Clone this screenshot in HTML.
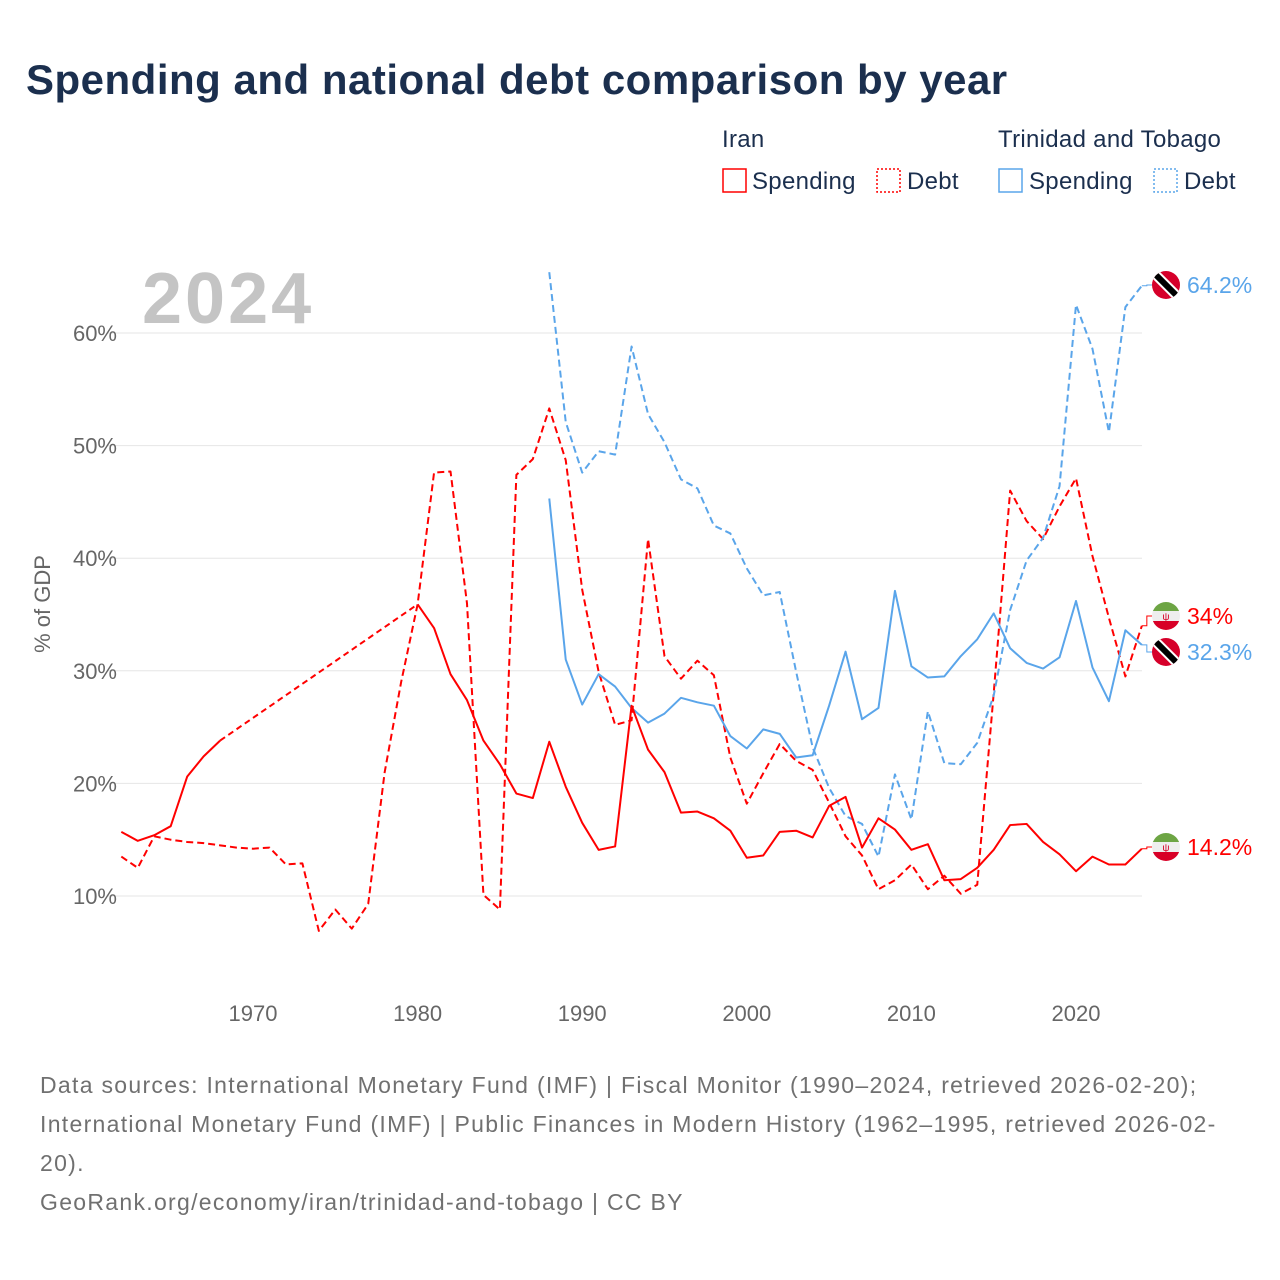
<!DOCTYPE html>
<html><head><meta charset="utf-8"><style>
body{margin:0;background:#fff;font-family:"Liberation Sans",sans-serif;}
#wrap{position:relative;width:1280px;height:1280px;overflow:hidden;}
</style></head><body>
<div id="wrap">
<svg id="chart" width="1280" height="1280" xmlns="http://www.w3.org/2000/svg">
<text x="26" y="94" font-size="42" font-weight="bold" fill="#1b2f4e" letter-spacing="0.5">Spending and national debt comparison by year</text>
<g font-size="24" fill="#1b2f4e" letter-spacing="0.3">
 <text x="722" y="147">Iran</text>
 <text x="998" y="147">Trinidad and Tobago</text>
 <g><rect x="723" y="169" width="23" height="23" fill="none" stroke="#f00" stroke-width="1.5"/><text x="752" y="189">Spending</text></g>
 <g><rect x="877" y="169" width="23" height="23" fill="none" stroke="#f00" stroke-width="1.5" stroke-dasharray="2,2"/><text x="907" y="189">Debt</text></g>
 <g><rect x="999" y="169" width="23" height="23" fill="none" stroke="#5aa5ea" stroke-width="1.5"/><text x="1029" y="189">Spending</text></g>
 <g><rect x="1154" y="169" width="23" height="23" fill="none" stroke="#5aa5ea" stroke-width="1.5" stroke-dasharray="2,2"/><text x="1184" y="189">Debt</text></g>
</g>
<text x="142" y="323" font-size="72" font-weight="bold" fill="#c4c4c4" letter-spacing="3">2024</text>
<g id="grid"></g><g id="series"></g><g id="ends"></g>
<text transform="translate(50,604) rotate(-90)" text-anchor="middle" font-size="22" fill="#666">% of GDP</text>
<g font-size="23" fill="#707070" letter-spacing="1.3">
 <text x="40" y="1093">Data sources: International Monetary Fund (IMF) | Fiscal Monitor (1990–2024, retrieved 2026-02-20);</text>
 <text x="40" y="1132">International Monetary Fund (IMF) | Public Finances in Modern History (1962–1995, retrieved 2026-02-</text>
 <text x="40" y="1171">20).</text>
 <text x="40" y="1210">GeoRank.org/economy/iran/trinidad-and-tobago | CC BY</text>
</g>
</svg>
</div>
<script>
const startYear = 1962;
const yTicks = [10,20,30,40,50,60];
const xTicks = [1970,1980,1990,2000,2010,2020];
const iranSpending = [15.7,14.9,15.4,16.2,20.6,22.4,23.8,null,null,null,null,null,null,null,null,null,null,null,35.9,33.8,29.7,27.4,23.8,21.7,19.1,18.7,23.7,19.7,16.5,14.1,14.4,26.9,23.0,21.0,17.4,17.5,16.9,15.8,13.4,13.6,15.7,15.8,15.2,18.0,18.8,14.3,16.9,15.9,14.1,14.6,11.4,11.5,12.5,14.1,16.3,16.4,14.8,13.7,12.2,13.5,12.8,12.8,14.2];
const iranDebt = [13.5,12.5,15.3,15.0,14.8,14.7,14.5,14.3,14.2,14.3,12.8,12.9,6.9,8.8,7.1,9.3,21.0,29.0,35.9,47.6,47.7,36.0,10.1,8.8,47.4,48.8,53.3,48.7,37.2,29.9,25.2,25.6,41.7,31.3,29.3,30.9,29.6,22.3,18.2,20.9,23.5,22.0,21.2,18.3,15.3,13.6,10.6,11.4,12.8,10.6,11.8,10.2,11.0,28.0,46.0,43.3,41.7,44.6,47.1,40.2,34.7,29.5,34.0];
const ttStart = 1988;
const ttSpending = [45.3,31.0,27.0,29.7,28.6,26.7,25.4,26.2,27.6,27.2,26.9,24.2,23.1,24.8,24.4,22.3,22.5,26.9,31.7,25.7,26.7,37.1,30.4,29.4,29.5,31.3,32.8,35.1,32.0,30.7,30.2,31.2,36.2,30.3,27.3,33.6,32.3];
const ttDebt = [65.4,52.1,47.6,49.5,49.2,58.8,52.8,50.3,47.0,46.2,42.9,42.2,39.1,36.7,37.0,29.9,23.2,19.6,17.1,16.4,13.5,20.8,16.8,26.4,21.8,21.7,23.6,27.8,35.4,39.8,41.8,46.4,62.5,58.6,51.2,62.3,64.2];
const endLabels = ["64.2%","34%","32.3%","14.2%"];

const NS="http://www.w3.org/2000/svg";
function X(yr){return 253+(yr-1970)*16.46;}
function Y(v){return 1008.6-v*11.26;}
function mk(t,a,p){const e=document.createElementNS(NS,t);for(const k in a)e.setAttribute(k,a[k]);p.appendChild(e);return e;}
const grid=document.getElementById('grid');
yTicks.forEach(v=>{
 const l=mk('line',{x1:108,x2:1142,y1:Y(v),y2:Y(v),stroke:'#e6e6e6','stroke-width':1},grid);
 
 
 const t=mk('text',{x:117,y:Y(v)+8,'text-anchor':'end','font-size':22,fill:'#666'},grid);
 t.textContent=v+'%';
 
 
});
xTicks.forEach(yr=>{
 const t=mk('text',{x:X(yr),y:1021,'text-anchor':'middle','font-size':22,fill:'#666'},grid);
 t.textContent=yr;
 
 
});
const S=document.getElementById('series');
function draw(vals,start,color,dashed,name){
 let segs=[],cur=[],prev=null;
 vals.forEach((v,i)=>{
  if(v==null){if(cur.length){segs.push(cur);cur=[];}return;}
  const p=[X(start+i),Y(v)];
  if(prev&&!cur.length){const g=mk('path',{d:`M${prev[0]},${prev[1]}L${p[0]},${p[1]}`,fill:'none',stroke:color,'stroke-width':2,'stroke-dasharray':'6,4'},S);
   
   }
  cur.push(p);prev=p;
 });
 if(cur.length)segs.push(cur);
 segs.forEach(s=>{
  const a={d:'M'+s.map(p=>p.join(',')).join('L'),fill:'none',stroke:color,'stroke-width':2,'stroke-linejoin':'round'};
  if(dashed)a['stroke-dasharray']='7,4';
  const e=mk('path',a,S);
  
  
 });
}
draw(iranDebt,startYear,'#ff0000',true,'iran-debt-line');
draw(ttDebt,ttStart,'#5aa5ea',true,'tt-debt-line');
draw(ttSpending,ttStart,'#5aa5ea',false,'tt-spending-line');
draw(iranSpending,startYear,'#ff0000',false,'iran-spending-line');

const E=document.getElementById('ends');
function flag(cx,cy,kind){
 const g=mk('g',{},E);
 
 
 const id='c'+Math.round(cy);
 const cp=mk('clipPath',{id:id},g);mk('circle',{cx:cx,cy:cy,r:14},cp);
 const h=mk('g',{'clip-path':`url(#${id})`},g);
 if(kind==='tt'){
  mk('rect',{x:cx-15,y:cy-15,width:30,height:30,fill:'#d6002a'},h);
  mk('line',{x1:cx-14,y1:cy-14,x2:cx+14,y2:cy+14,stroke:'#fff','stroke-width':10},h);
  mk('line',{x1:cx-14,y1:cy-14,x2:cx+14,y2:cy+14,stroke:'#000','stroke-width':6},h);
 }else{
  mk('rect',{x:cx-15,y:cy-15,width:30,height:10,fill:'#6da544'},h);
  mk('rect',{x:cx-15,y:cy-5,width:30,height:10,fill:'#eee'},h);
  mk('rect',{x:cx-15,y:cy+5,width:30,height:10,fill:'#d80027'},h);
  const t=mk('text',{x:cx,y:cy+4,'text-anchor':'middle','font-size':10,fill:'#d80027'},h);t.textContent='ψ';
 }
}
const ends=[[ttDebt[ttDebt.length-1],285,'tt','#5aa5ea'],[iranDebt[iranDebt.length-1],616,'iran','#ff0000'],[ttSpending[ttSpending.length-1],652,'tt','#5aa5ea'],[iranSpending[iranSpending.length-1],847,'iran','#ff0000']];
ends.forEach((d,i)=>{
 const x0=X(2024),y0=Y(d[0]);
 const c=mk('path',{d:`M${x0},${y0}L${x0+5},${y0}L${x0+5},${d[1]}L${1152},${d[1]}`,fill:'none',stroke:d[3],'stroke-width':1},E);
 
 
 flag(1166,d[1],d[2]);
 const t=mk('text',{x:1187,y:d[1]+8,'font-size':23,fill:d[3]},E);
 t.textContent=endLabels[i];
 
 
});
</script>
</body></html>
